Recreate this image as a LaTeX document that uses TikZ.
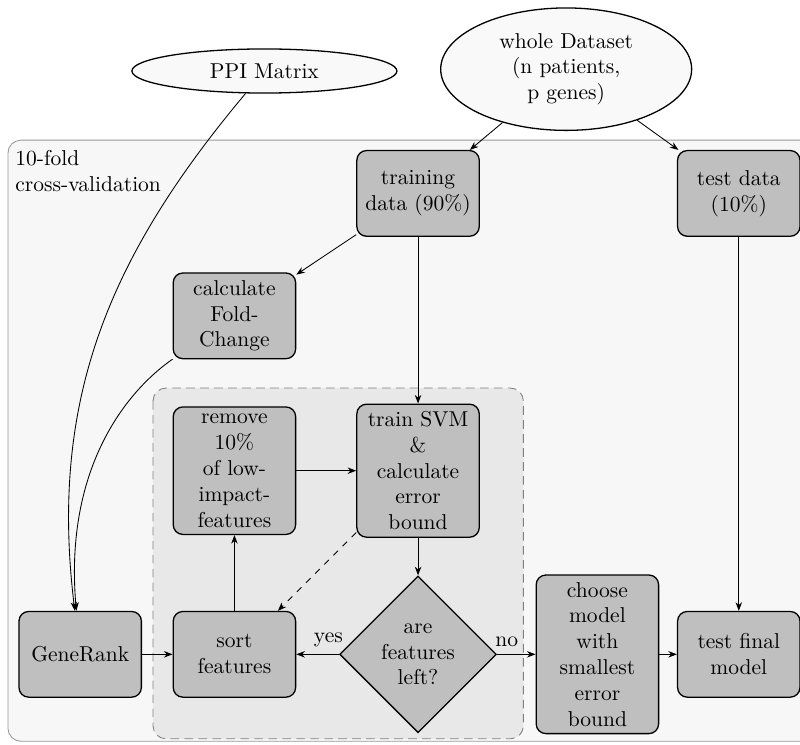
\documentclass[tikz,border=0pt]{standalone}
\usepackage{tikz}
\usetikzlibrary{shapes.geometric, arrows.meta, positioning}

\begin{document}
\begin{tikzpicture}[
    on grid,
    block/.style={
        rectangle, draw, rounded corners=4.5pt, semithick,
        minimum width=2cm, minimum height=1.4cm,
        align=center, fill=gray!50
    },
    decision/.style={
        diamond, draw, semithick, aspect=1,
        inner sep=2.5pt, align=center, fill=gray!50
    },
    source/.style={
        ellipse, draw, semithick, fill=gray!5, align=center
    },
    arrow/.style={-{Stealth[length=4pt, width=3pt]}},
    edgelabel/.style={above, pos=0.25}
]
\useasboundingbox (0,0) rectangle (13.07,-12.16);

% ── Frames ──
\draw[gray!80, fill=gray!6, rounded corners=6pt] (0.13,-2.29) rectangle (13.4,-12.11);
\draw[gray, dash pattern=on 4pt off 2.5pt, fill=gray!18, rounded corners=6pt] (2.50,-6.34) rectangle (8.55,-12.07);
\node[anchor=north west, align=left, inner sep=0pt] (cvlabel) at (0.245,-2.45) {10-fold\\cross-validation};

% ── Bottom row ──
\node[block] (generank) at (1.31,-10.69) {GeneRank};
\node[block, right=2.52cm of generank] (sort) {sort\\features};
\node[decision, right=3.0cm of sort] (featleft) {are\\features\\left?};
\node[block, right=2.93cm of featleft] (choose) {choose\\model\\with\\smallest\\error\\bound};
\node[block, right=2.31cm of choose] (final) {test final\\model};

% ── Feature elimination loop ──
\node[block, above=3.0cm of sort] (remove) {remove\\10\%\\of low-\\impact-\\features};
\node[block, above=3.0cm of featleft] (svm) {train SVM\\\&\\calculate\\error\\bound};

% ── Data split ──
\node[block, above=2.53cm of remove] (foldchange) {calculate\\Fold-\\Change};
\node[block, above=4.53cm of svm] (training) {training\\data (90\%)};
\node[block, above=7.53cm of final] (test) {test data\\(10\%)};

% ── Inputs ──
\node[source, minimum width=4.1cm, minimum height=2cm, above right=2.03cm and 2.42cm of training] (dataset) {whole Dataset\\(n patients,\\p genes)};
\node[source, minimum width=4.33cm, minimum height=0.72cm, above right=4.0cm and 0.49cm of foldchange] (ppi) {PPI Matrix};

% ── Connections ──
\draw[arrow] (dataset) -- (training);
\draw[arrow] (dataset) -- (test);
\draw[arrow] (ppi) to[out=-130, in=97] (generank);
\draw[arrow] (foldchange) to[out=-145, in=95, out looseness=0.6, in looseness=1.3] (generank);
\draw[arrow] (training) -- (foldchange);
\draw[arrow] (training) -- (svm);
\draw[arrow] (remove) -- (svm);
\draw[arrow] (svm) -- (featleft);
\draw[arrow, dashed] (svm) -- (sort);
\draw[arrow] (sort) -- (remove);
\draw[arrow] (featleft) -- node[edgelabel] {yes} (sort);
\draw[arrow] (featleft) -- node[edgelabel] {no} (choose);
\draw[arrow] (generank) -- (sort);
\draw[arrow] (choose) -- (final);
\draw[arrow] (test) -- (final);

\end{tikzpicture}
\end{document}
